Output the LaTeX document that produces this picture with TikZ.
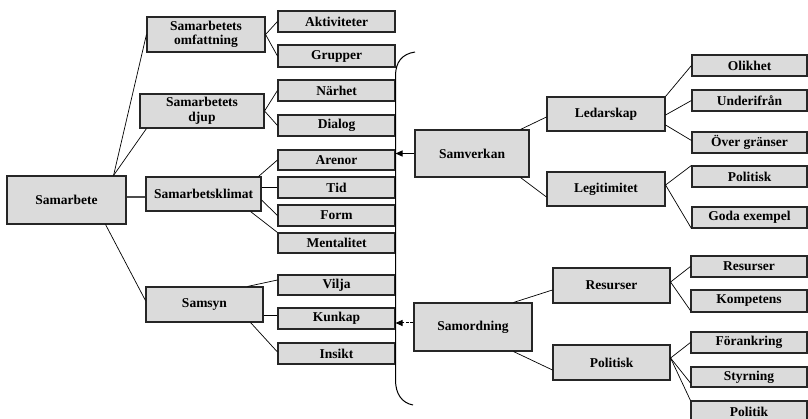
\documentclass[tikz,border=0pt]{standalone}
\usepackage{fontspec}
\setmainfont{Liberation Serif}
\usetikzlibrary{calc,arrows.meta}
\tikzset{
  box/.style={draw=black!85, line width=1.1pt, fill=black!14, inner sep=0pt,
    align=center, font=\fontsize{13.5}{14.5}\selectfont\bfseries},
  link/.style={draw=black, line width=0.7pt},
  bracketline/.style={draw=black, line width=1pt},
  pointer/.style={draw=black, line width=1pt, -{Triangle[length=7pt,width=6pt]}}
}
\begin{document}
\begin{tikzpicture}[x=1pt,y=-1pt]
\useasboundingbox (0,0) rectangle (808,419);
% left column
\node[box, minimum width=119, minimum height=48] (sam) at (66.5,200) {Samarbete};
\node[box, minimum width=118, minimum height=35] (omf) at (206,34.5) {Samarbetets\\omfattning};
\node[box, minimum width=124, minimum height=34] (djup) at (202,111) {Samarbetets\\djup};
\node[box, minimum width=115, minimum height=34] (klim) at (203.5,194) {Samarbetsklimat};
\node[box, minimum width=117, minimum height=35] (samsyn) at (204.5,304.5) {Samsyn};
% middle column
\node[box, minimum width=117, minimum height=21] (akt) at (336.5,21.5) {Aktiviteter};
\node[box, minimum width=117, minimum height=22] (grup) at (336.5,56) {Grupper};
\node[box, minimum width=117, minimum height=21] (narhet) at (336.5,90.5) {Närhet};
\node[box, minimum width=117, minimum height=21] (dialog) at (336.5,125.5) {Dialog};
\node[box, minimum width=117, minimum height=20] (arenor) at (336.5,160) {Arenor};
\node[box, minimum width=117, minimum height=21] (tid) at (336.5,187.5) {Tid};
\node[box, minimum width=117, minimum height=21] (form) at (336.5,215.5) {Form};
\node[box, minimum width=117, minimum height=20] (ment) at (336.5,243) {Mentalitet};
\node[box, minimum width=117, minimum height=20] (vilja) at (336.5,285) {Vilja};
\node[box, minimum width=117, minimum height=21] (kunkap) at (336.5,318.5) {Kunkap};
\node[box, minimum width=117, minimum height=21] (insikt) at (336.5,353.5) {Insikt};
% bracket
\coordinate (br) at (395.5,0);
\draw[bracketline] (415,52) .. controls (402,54) and (395.5,62) .. (395.5,76) -- (395.5,380) .. controls (395.5,394) and (402,403) .. (413,405);
% right-middle
\node[box, minimum width=114, minimum height=47] (samverkan) at (472,153.5) {Samverkan};
\node[box, minimum width=118, minimum height=48] (samord) at (473,327) {Samordning};
\node[box, minimum width=118, minimum height=34] (led) at (606,114) {Ledarskap};
\node[box, minimum width=118, minimum height=34] (legit) at (606,189) {Legitimitet};
\node[box, minimum width=117, minimum height=35] (resmid) at (611.5,285.5) {Resurser};
\node[box, minimum width=117, minimum height=35] (polmid) at (611.5,362.5) {Politisk};
% right column
\node[box, minimum width=115, minimum height=21] (olik) at (749.5,65.5) {Olikhet};
\node[box, minimum width=115, minimum height=21] (under) at (749.5,100.5) {Underifrån};
\node[box, minimum width=115, minimum height=21] (over) at (749.5,142.5) {Över gränser};
\node[box, minimum width=115, minimum height=21] (polr) at (749.5,176.5) {Politisk};
\node[box, minimum width=115, minimum height=21] (goda) at (749.5,217.5) {Goda exempel};
\node[box, minimum width=116, minimum height=21] (resr) at (749,266.5) {Resurser};
\node[box, minimum width=116, minimum height=22] (komp) at (749,301) {Kompetens};
\node[box, minimum width=116, minimum height=21] (forank) at (749,342.5) {Förankring};
\node[box, minimum width=116, minimum height=20] (styr) at (749,377) {Styrning};
\node[box, minimum width=116, minimum height=21] (politik) at (749,411.5) {Politik};
% connectors, left
\draw[link] ($(sam.north east)+(-13,0)$) -- (omf.west);
\draw[link] ($(sam.north east)+(-13,0)$) -- ($(djup.south west)+(7,0)$);
\draw[link, line width=1.4pt, draw=black!70] ($(sam.east)+(0,-3)$) -- ($(klim.west)+(0,3)$);
\draw[link] ($(sam.south east)+(-21,0)$) -- ($(samsyn.west)+(0,-4)$);
\draw[link] (omf.east) -- (akt.west);
\draw[link] (omf.east) -- (grup.west);
\draw[link] (djup.east) -- (narhet.west);
\draw[link] (djup.east) -- (dialog.west);
\draw[link] ($(klim.north east)+(-3,0)$) -- (arenor.west);
\draw[link] (klim.east |- tid.west) -- (tid.west);
\draw[link] ($(klim.east)+(0,6)$) -- (form.west);
\draw[link] ($(klim.south east)+(-11,0)$) -- (ment.north west);
\draw[link] ($(samsyn.north east)+(-16,0)$) -- ($(vilja.west)+(0,-5)$);
\coordinate (kk) at ($(kunkap.west)+(0,-3)$);
\draw[link] (samsyn.east |- kk) -- (kk);
\draw[link] ($(samsyn.south east)+(-13,0)$) -- ($(insikt.west)+(0,-1.5)$);
% connectors, right
\draw[link] ($(samverkan.north east)+(-9,0)$) -- ($(led.west)+(0,3)$);
\draw[link] ($(samverkan.south east)+(-9,0)$) -- ($(legit.west)+(0,8)$);
\draw[link] (led.north east) -- (olik.west);
\draw[link] ($(led.east)+(0,1)$) -- (under.west);
\draw[link] ($(led.east)+(0,11)$) -- ($(over.west)+(0,-2)$);
\draw[link] ($(legit.east)+(0,-4)$) -- (polr.north west);
\draw[link] ($(legit.east)+(0,-4)$) -- (goda.south west);
\draw[link] ($(samord.north east)+(-19,0)$) -- ($(resmid.west)+(0,4.5)$);
\draw[link] ($(samord.south east)+(-19,0)$) -- ($(polmid.west)+(0,7.5)$);
\draw[link] ($(resmid.east)+(0,-3.5)$) -- (resr.west);
\draw[link] ($(resmid.east)+(0,-3.5)$) -- ($(komp.south west)+(0,-2)$);
\draw[link] ($(polmid.east)+(0,-4.5)$) -- (forank.west);
\draw[link] ($(polmid.east)+(0,-4.5)$) -- ($(styr.west)+(0,6)$);
\draw[link] ($(polmid.east)+(0,-4.5)$) -- (politik.north west);
% arrows to bracket
\draw[pointer] (samverkan.west) -- (samverkan.west -| br);
\coordinate (sa) at ($(samord.west)+(0,-4)$);
\draw[pointer, dash pattern=on 3pt off 1.5pt] (sa) -- (sa -| br);
\end{tikzpicture}
\end{document}
